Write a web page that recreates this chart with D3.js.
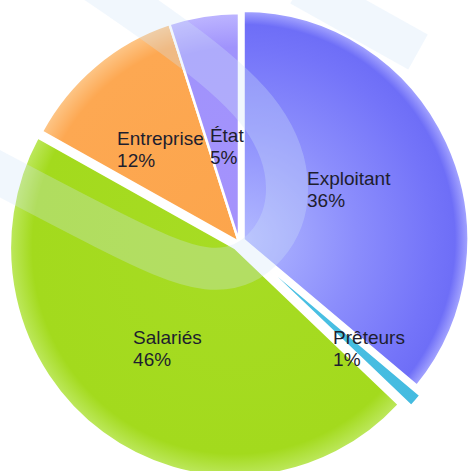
<!DOCTYPE html>
<html>
<head>
<meta charset="utf-8">
<script src="https://cdn.jsdelivr.net/npm/d3@7"></script>
<style>
body { margin: 0; background: #fff; }
svg { display: block; }
.lbl { font-family: "Liberation Sans", Arial, sans-serif; font-size: 19px; fill: #1e1e2e; }
</style>
</head>
<body>
<script>
const WIDTH = 470;
const HEIGHT = 471;
const CX = 239, CY = 242;
const RADIUS = 225;
const YSCALE = 1.018;

// data
const categories = ['Exploitant', 'Prêteurs', 'Salariés', 'Entreprise', 'État'];
const shares = [36, 1, 46, 12, 5];
const shareLabels = ['36%', '1%', '46%', '12%', '5%'];

// styling per slice (same order as categories)
const gradients = [
	[[0, '#b2b9ff'], [0.5, '#8b8dfc'], [0.84, '#7474f9'], [0.94, '#6e6ef7'], [1, '#a6a6ff']],
	[[0, '#4cc2e4'], [1, '#44bbe0']],
	[[0, '#a7dc24'], [0.9, '#a3da1d'], [1, '#bde85e']],
	[[0, '#fca54c'], [0.9, '#fda852'], [1, '#fdc688']],
	[[0, '#a592fc'], [0.85, '#a093fc'], [1, '#bdb5ff']]
];
const explode = [5, 11, 7, 0, 0];
const labelRadius = [120, 165, 125, 117, 95];
const labelShift = [[-3, 2], [-2, -12], [6, -2], [-4, -1], [3, 0]];

var drawChart = function(){
	var svg = d3.select('body')
		.append('svg')
		.attr('width', WIDTH)
		.attr('height', HEIGHT);

	var defs = svg.append('defs');
	gradients.forEach(function(stops, i){
		var g = defs.append('radialGradient')
			.attr('id', 'grad' + i)
			.attr('gradientUnits', 'userSpaceOnUse')
			.attr('cx', 0).attr('cy', 0).attr('r', RADIUS);
		stops.forEach(function(s){
			g.append('stop').attr('offset', s[0]).attr('stop-color', s[1]);
		});
	});

	var pie = d3.pie().sort(null).value(function(d){ return d; });
	var arcs = pie(shares);
	var arc = d3.arc().innerRadius(0).outerRadius(RADIUS);

	var offset = function(d, r){
		var a = (d.startAngle + d.endAngle) / 2;
		return [Math.sin(a) * r, -Math.cos(a) * r];
	};

	var chart = svg.append('g')
		.attr('transform', 'translate(' + CX + ',' + CY + ') scale(1,' + YSCALE + ')');

	chart.selectAll('g.slice')
		.data(arcs)
		.enter()
		.append('g')
		.classed('slice', true)
		.attr('transform', function(d, i){
			var o = offset(d, explode[i]);
			return 'translate(' + o[0] + ',' + o[1] + ')';
		})
		.append('path')
		.attr('d', arc)
		.attr('fill', function(d, i){ return 'url(#grad' + i + ')'; })
		.attr('stroke', '#fff')
		.attr('stroke-width', 2.5)
		.attr('stroke-linejoin', 'round');

	// faint watermark bands over the chart
	var band = d3.line().curve(d3.curveBasis);
	var wm = svg.append('g').attr('fill', 'none').attr('stroke', '#cfe3f9').attr('stroke-opacity', 0.3);
	wm.append('path')
		.attr('stroke-width', 42)
		.attr('d', band([[85, -25], [195, 50], [270, 115], [295, 190], [272, 250], [215, 282], [110, 232], [-30, 158]]));
	wm.append('path')
		.attr('stroke-width', 40)
		.attr('d', band([[300, -14], [418, 52]]));

	var labelLayer = svg.append('g')
		.attr('transform', 'translate(' + CX + ',' + CY + ')');

	labelLayer.selectAll('text.lbl')
		.data(arcs)
		.enter()
		.append('text')
		.classed('lbl', true)
		.each(function(d, i){
			var t = d3.select(this);
			var o = offset(d, labelRadius[i] + explode[i]);
			t.append('tspan').attr('x', 0).attr('dy', 0).text(categories[i]);
			t.append('tspan').attr('x', 0).attr('dy', 22).text(shareLabels[i]);
			var bb = this.getBBox();
			var x = o[0] - bb.width / 2 + labelShift[i][0];
			var y = o[1] * YSCALE - bb.height / 2 - bb.y + labelShift[i][1];
			t.attr('transform', 'translate(' + x + ',' + y + ')');
		});
};

window.onload = function(){
	drawChart();
};
</script>
</body>
</html>
